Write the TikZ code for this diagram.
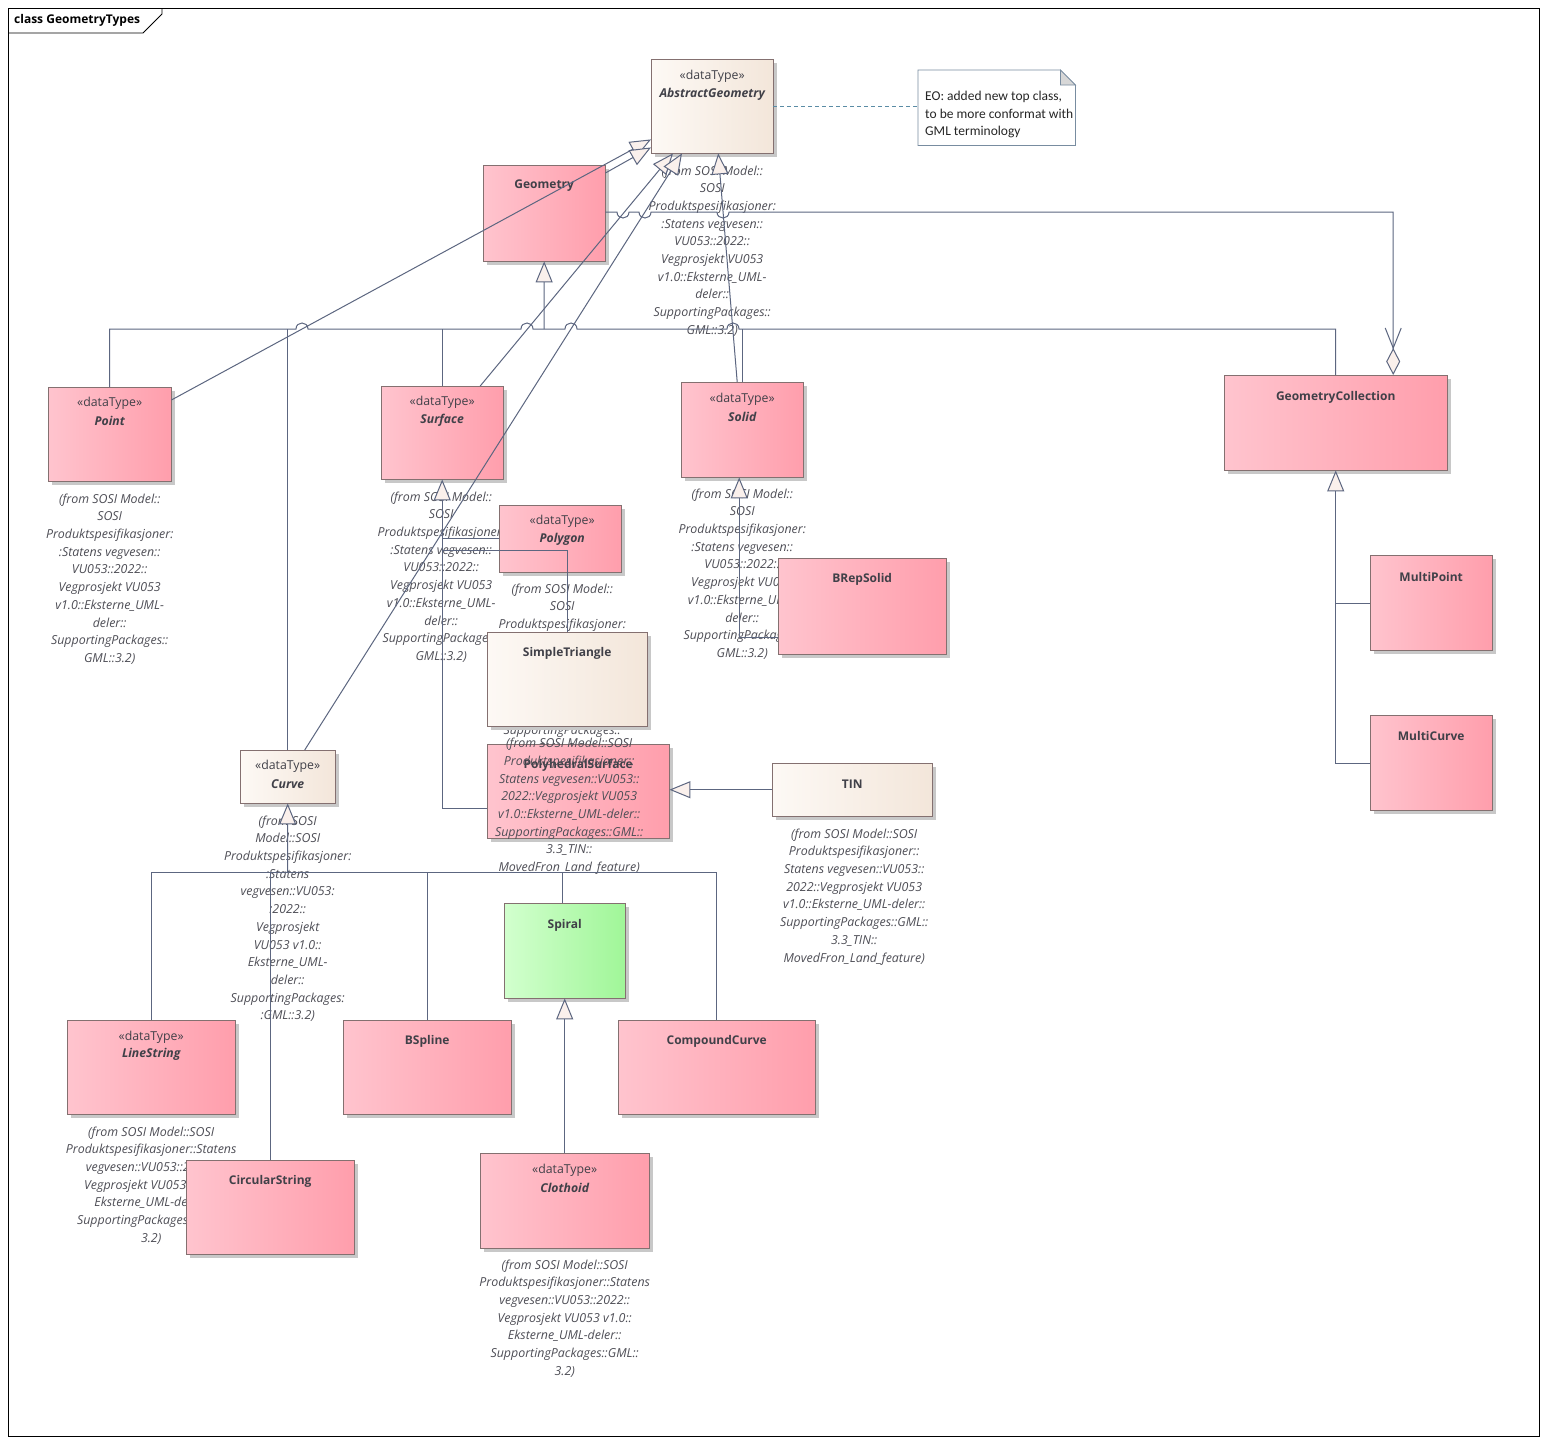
\documentclass[tikz,border=0pt]{standalone}
\usepackage{fontspec}
\setmainfont{Open Sans}
\newfontfamily\notefont{Carlito}
\usetikzlibrary{arrows.meta,calc}
\definecolor{pinkL}{RGB}{255,196,206}
\definecolor{pinkR}{RGB}{255,158,172}
\definecolor{creamL}{RGB}{253,249,245}
\definecolor{creamR}{RGB}{243,230,218}
\definecolor{greenL}{RGB}{210,255,206}
\definecolor{greenR}{RGB}{160,246,152}
\definecolor{boxborder}{RGB}{132,112,112}
\definecolor{linec}{RGB}{92,102,128}
\definecolor{nametext}{RGB}{64,64,72}
\definecolor{labeltext}{RGB}{78,78,86}
\definecolor{shadowc}{RGB}{200,200,200}
\definecolor{arrowfill}{RGB}{250,240,236}
\definecolor{notelinkc}{RGB}{90,140,165}
\definecolor{noteborder}{RGB}{120,140,160}
\definecolor{foldc}{RGB}{215,215,215}
\newcommand\stdfrom{(from SOSI Model::\\SOSI\\Produktspesifikasjoner:\\:Statens vegvesen::\\VU053::2022::\\Vegprosjekt VU053\\v1.0::Eksterne\_UML-\\deler::\\SupportingPackages::\\GML::3.2)}
\newcommand\tinfrom{(from SOSI Model::SOSI\\Produktspesifikasjoner::\\Statens vegvesen::VU053::\\2022::Vegprosjekt VU053\\v1.0::Eksterne\_UML-deler::\\SupportingPackages::GML::\\3.3\_TIN::\\MovedFron\_Land\_feature)}
\newcommand\longfrom{(from SOSI Model::SOSI\\Produktspesifikasjoner::Statens\\vegvesen::VU053::2022::\\Vegprosjekt VU053 v1.0::\\Eksterne\_UML-deler::\\SupportingPackages::GML::\\3.2)}
\tikzset{
  umlbox/.style={draw=boxborder, line width=0.8pt, inner sep=0pt, anchor=north west,
     preaction={fill=shadowc, transform canvas={xshift=4pt,yshift=-4pt}}},
  pinkbox/.style={umlbox, left color=pinkL, right color=pinkR},
  creambox/.style={umlbox, left color=creamL, right color=creamR},
  greenbox/.style={umlbox, left color=greenL, right color=greenR},
  stereo/.style={font=\fontsize{12.3}{14}\selectfont, text=nametext, inner sep=0pt},
  cname/.style={font=\fontsize{12}{14}\selectfont\bfseries, text=nametext, inner sep=0pt},
  iname/.style={font=\fontsize{12.2}{14}\selectfont\bfseries\itshape, text=nametext, inner sep=0pt},
  fromlbl/.style={font=\fontsize{12.4}{17.7}\selectfont\itshape, text=labeltext, align=center, anchor=north, inner sep=0pt},
  conn/.style={draw=linec, line width=1pt, line join=miter},
  gen/.style={conn, -{Triangle[length=21pt,width=17pt,fill=arrowfill]}},
}
\begin{document}
\begin{tikzpicture}[x=1pt,y=-1pt]
\useasboundingbox (0,0) rectangle (1547,1444);
\fill[white] (0,0) rectangle (1547,1444);
% frame
\draw[black, line width=0.8pt] (8,8) rectangle (1539,1436);
\draw[black, line width=0.8pt] (8,33) -- (143,33) -- (162,14) -- (162,8);
\node[anchor=west, font=\fontsize{12}{14}\selectfont\bfseries, inner sep=0pt] (title) at (14,20) {class GeometryTypes};

% box placeholders
\path
  node[inner sep=0pt, minimum width=122pt, minimum height=94pt, anchor=north west] (abs) at (651,59) {}
  node[inner sep=0pt, minimum width=122pt, minimum height=96pt, anchor=north west] (geom) at (483,165) {}
  node[inner sep=0pt, minimum width=123pt, minimum height=94pt, anchor=north west] (point) at (48,387) {}
  node[inner sep=0pt, minimum width=122pt, minimum height=93pt, anchor=north west] (surface) at (381,386) {}
  node[inner sep=0pt, minimum width=122pt, minimum height=95pt, anchor=north west] (solid) at (681,382) {}
  node[inner sep=0pt, minimum width=223pt, minimum height=95pt, anchor=north west] (gc) at (1224,375) {}
  node[inner sep=0pt, minimum width=122pt, minimum height=67pt, anchor=north west] (polygon) at (499,505) {}
  node[inner sep=0pt, minimum width=160pt, minimum height=94pt, anchor=north west] (simpletri) at (487,632) {}
  node[inner sep=0pt, minimum width=168pt, minimum height=96pt, anchor=north west] (brep) at (778,558) {}
  node[inner sep=0pt, minimum width=122pt, minimum height=95pt, anchor=north west] (multipoint) at (1370,555) {}
  node[inner sep=0pt, minimum width=122pt, minimum height=95pt, anchor=north west] (multicurve) at (1370,715) {}
  node[inner sep=0pt, minimum width=95pt, minimum height=53pt, anchor=north west] (curve) at (240,750) {}
  node[inner sep=0pt, minimum width=182pt, minimum height=94pt, anchor=north west] (polysurf) at (487,744) {}
  node[inner sep=0pt, minimum width=160pt, minimum height=53pt, anchor=north west] (tin) at (772,763) {}
  node[inner sep=0pt, minimum width=121pt, minimum height=95pt, anchor=north west] (spiral) at (504,903) {}
  node[inner sep=0pt, minimum width=168pt, minimum height=94pt, anchor=north west] (linestring) at (67,1020) {}
  node[inner sep=0pt, minimum width=168pt, minimum height=94pt, anchor=north west] (bspline) at (343,1020) {}
  node[inner sep=0pt, minimum width=197pt, minimum height=94pt, anchor=north west] (compound) at (618,1020) {}
  node[inner sep=0pt, minimum width=168pt, minimum height=94pt, anchor=north west] (circular) at (186,1160) {}
  node[inner sep=0pt, minimum width=169pt, minimum height=95pt, anchor=north west] (clothoid) at (480,1153) {};

% "from" labels (behind boxes)
\node[fromlbl] (absl) at ($(abs.south)+(0,12)$) {\stdfrom};
\node[fromlbl] (pointl) at ($(point.south)+(0,12)$) {\stdfrom};
\node[fromlbl] (surfacel) at ($(surface.south)+(-1,12)$) {\stdfrom};
\node[fromlbl] (solidl) at ($(solid.south)+(0,11)$) {\stdfrom};
\node[fromlbl] (polygonl) at ($(polygon.south)+(2,11)$) {\stdfrom};
\node[fromlbl] (curvel) at ($(curve.south)+(0,12)$) {(from SOSI\\Model::SOSI\\Produktspesifikasjoner:\\:Statens\\vegvesen::VU053:\\:2022::\\Vegprosjekt\\VU053 v1.0::\\Eksterne\_UML-\\deler::\\SupportingPackages:\\:GML::3.2)};
\node[fromlbl] (tinl) at ($(tin.south)+(2,12)$) {\tinfrom};
\node[fromlbl] (linestringl) at ($(linestring.south)+(0,12)$) {\longfrom};
\node[fromlbl] (clothoidl) at ($(clothoid.south)+(0,11)$) {\longfrom};

% boxes
\path[creambox] (abs.north west) rectangle (abs.south east);
\path[pinkbox] (geom.north west) rectangle (geom.south east);
\path[pinkbox] (point.north west) rectangle (point.south east);
\path[pinkbox] (surface.north west) rectangle (surface.south east);
\path[pinkbox] (solid.north west) rectangle (solid.south east);
\path[pinkbox] (gc.north west) rectangle (gc.south east);
\path[pinkbox] (polygon.north west) rectangle (polygon.south east);
\path[creambox] (simpletri.north west) rectangle (simpletri.south east);
\path[pinkbox] (brep.north west) rectangle (brep.south east);
\path[pinkbox] (multipoint.north west) rectangle (multipoint.south east);
\path[pinkbox] (multicurve.north west) rectangle (multicurve.south east);
\path[creambox] (curve.north west) rectangle (curve.south east);
\path[pinkbox] (polysurf.north west) rectangle (polysurf.south east);
\path[creambox] (tin.north west) rectangle (tin.south east);
\path[greenbox] (spiral.north west) rectangle (spiral.south east);
\path[pinkbox] (linestring.north west) rectangle (linestring.south east);
\path[pinkbox] (bspline.north west) rectangle (bspline.south east);
\path[pinkbox] (compound.north west) rectangle (compound.south east);
\path[pinkbox] (circular.north west) rectangle (circular.south east);
\path[pinkbox] (clothoid.north west) rectangle (clothoid.south east);

% box texts
\node[stereo] at ($(abs.north)+(0,17)$) {«dataType»};
\node[iname] at ($(abs.north)+(0,35)$) {AbstractGeometry};
\node[cname] at ($(geom.north)+(0,21)$) {Geometry};
\node[stereo] at ($(point.north)+(0,16)$) {«dataType»};
\node[iname] at ($(point.north)+(0,34)$) {Point};
\node[stereo] at ($(surface.north)+(0,16)$) {«dataType»};
\node[iname] at ($(surface.north)+(0,34)$) {Surface};
\node[stereo] at ($(solid.north)+(0,17)$) {«dataType»};
\node[iname] at ($(solid.north)+(0,35)$) {Solid};
\node[cname] at ($(gc.north)+(0,22)$) {GeometryCollection};
\node[stereo] at ($(polygon.north)+(2,16)$) {«dataType»};
\node[iname] at ($(polygon.north)+(2,34)$) {Polygon};
\node[cname] at ($(simpletri.north)+(0,21)$) {SimpleTriangle};
\node[cname] at ($(brep.north)+(0,21)$) {BRepSolid};
\node[cname] at ($(multipoint.north)+(0,22)$) {MultiPoint};
\node[cname] at ($(multicurve.north)+(0,21)$) {MultiCurve};
\node[stereo] at ($(curve.north)+(0,16)$) {«dataType»};
\node[iname] at ($(curve.north)+(0,34)$) {Curve};
\node[cname] at ($(polysurf.north)+(0,21)$) {PolyhedralSurface};
\node[cname] at ($(tin.north)+(0,21)$) {TIN};
\node[cname] at ($(spiral.north)+(0,22)$) {Spiral};
\node[stereo] at ($(linestring.north)+(0,17)$) {«dataType»};
\node[iname] at ($(linestring.north)+(0,34)$) {LineString};
\node[cname] at ($(bspline.north)+(0,21)$) {BSpline};
\node[cname] at ($(compound.north)+(0,21)$) {CompoundCurve};
\node[cname] at ($(circular.north)+(0,21)$) {CircularString};
\node[stereo] at ($(clothoid.north)+(0,17)$) {«dataType»};
\node[iname] at ($(clothoid.north)+(0,35)$) {Clothoid};

% PolyhedralSurface label drawn over its own box
\node[fromlbl] (polysurfl) at ($(polysurf.north)+(-9,-6)$) {\tinfrom};

% ---- connectors ----
% tree to Geometry (y=329) with hops
\coordinate (tG) at (544,329);
\draw[conn] (point.north) -- (point.north |- tG) -- (296,329)
   .. controls (296,321) and (308,321) .. (308,329) -- (521,329)
   .. controls (521,321) and (533,321) .. (533,329) -- (565,329)
   .. controls (565,321) and (577,321) .. (577,329) -- (727,329)
   .. controls (727,321) and (739,321) .. (739,329) -- (gc.north |- tG) -- (gc.north);
\draw[conn] (curve.north) -- (curve.north |- tG);
\draw[conn] (surface.north) -- (surface.north |- tG);
\draw[conn] (solid.north) -- (solid.north |- tG);
\draw[gen] (tG) -- (geom.south);

% aggregation Geometry -> GeometryCollection
\coordinate (aggEnd) at ($(gc.north)+(57.5,0)$);
\draw[conn, -{Diamond[length=27pt,width=14pt,fill=arrowfill]}] (geom.east |- 0,212) -- (617,212)
   .. controls (617,220) and (629,220) .. (629,212) -- (639,212)
   .. controls (639,220) and (651,220) .. (651,212) -- (717,212)
   .. controls (717,220) and (729,220) .. (729,212) -- (aggEnd |- 0,212) -- (aggEnd);
\draw[conn] ($(aggEnd)+(-8,-47)$) -- ($(aggEnd)+(0,-27)$) -- ($(aggEnd)+(8,-47)$);

% generalizations to AbstractGeometry
\draw[gen] ($(point.north east)+(0,13)$) -- ($(abs.south west)+(0,-14)$);
\draw[gen] ($(geom.north east)+(0,8)$) -- ($(abs.south west)+(0,-6)$);
\draw[gen] ($(surface.north)+(38,0)$) -- ($(abs.south west)+(22,0)$);
\draw[gen] ($(curve.north)+(17,0)$) -- ($(abs.south west)+(31,0)$);
\draw[gen] ($(solid.north)+(-5,0)$) -- ($(abs.south)+(6,0)$);

% Surface children
\draw[gen] ($(polysurf.south west)+(0,-30)$) -| (surface.south);
\draw[conn] ($(polygon.north west)+(0,33)$) -| ($(surface.south)+(0,40)$);
\draw[conn] (simpletri.north) |- ($(surface.south)+(0,71)$);
\draw[gen] (tin.west) -- (tin.west -| polysurf.east);

% Solid child
\draw[gen] ($(brep.south west)+(0,-17)$) -| ($(solid.south)+(-3,0)$);

% Curve children
\coordinate (cT) at (287.5,872);
\draw[gen] (cT) -- (curve.south);
\draw[conn] (linestring.north) |- (compound.north |- cT) -- (compound.north);
\draw[conn] (bspline.north) -- (bspline.north |- cT);
\draw[conn] ($(spiral.north)+(-2,0)$) -- ($(spiral.north |- cT)+(-2,0)$);
\draw[conn] (circular.north) -- (circular.north |- cT);
\draw[gen] (clothoid.north) -- (clothoid.north |- spiral.south);

% GeometryCollection children
\draw[gen] ($(multicurve.north west)+(0,48)$) -| (gc.south);
\draw[conn] ($(multipoint.north west)+(0,48)$) -- ($(multipoint.north west)+(-34,48)$);

% note
\node[inner sep=0pt, minimum width=157pt, minimum height=75pt, anchor=north west] (note) at (918,70) {};
\draw[noteborder, line width=0.8pt, fill=white] (note.north west) -- ($(note.north east)+(-15,0)$) -- ($(note.north east)+(0,15)$) -- (note.south east) -- (note.south west) -- cycle;
\draw[noteborder, line width=0.8pt, fill=foldc] ($(note.north east)+(-15,0)$) -- ($(note.north east)+(-15,15)$) -- ($(note.north east)+(0,15)$) -- cycle;
\node[anchor=north west, align=left, inner sep=0pt, font=\notefont\fontsize{13.5}{17.5}\selectfont, text=black!85] (notetext) at ($(note.north west)+(7,21)$) {EO: added new top class,\\to be more conformat with\\GML terminology};
\draw[draw=notelinkc, line width=0.8pt, dash pattern=on 4pt off 3pt] (abs.east) -- (abs.east -| note.west);
\end{tikzpicture}
\end{document}
